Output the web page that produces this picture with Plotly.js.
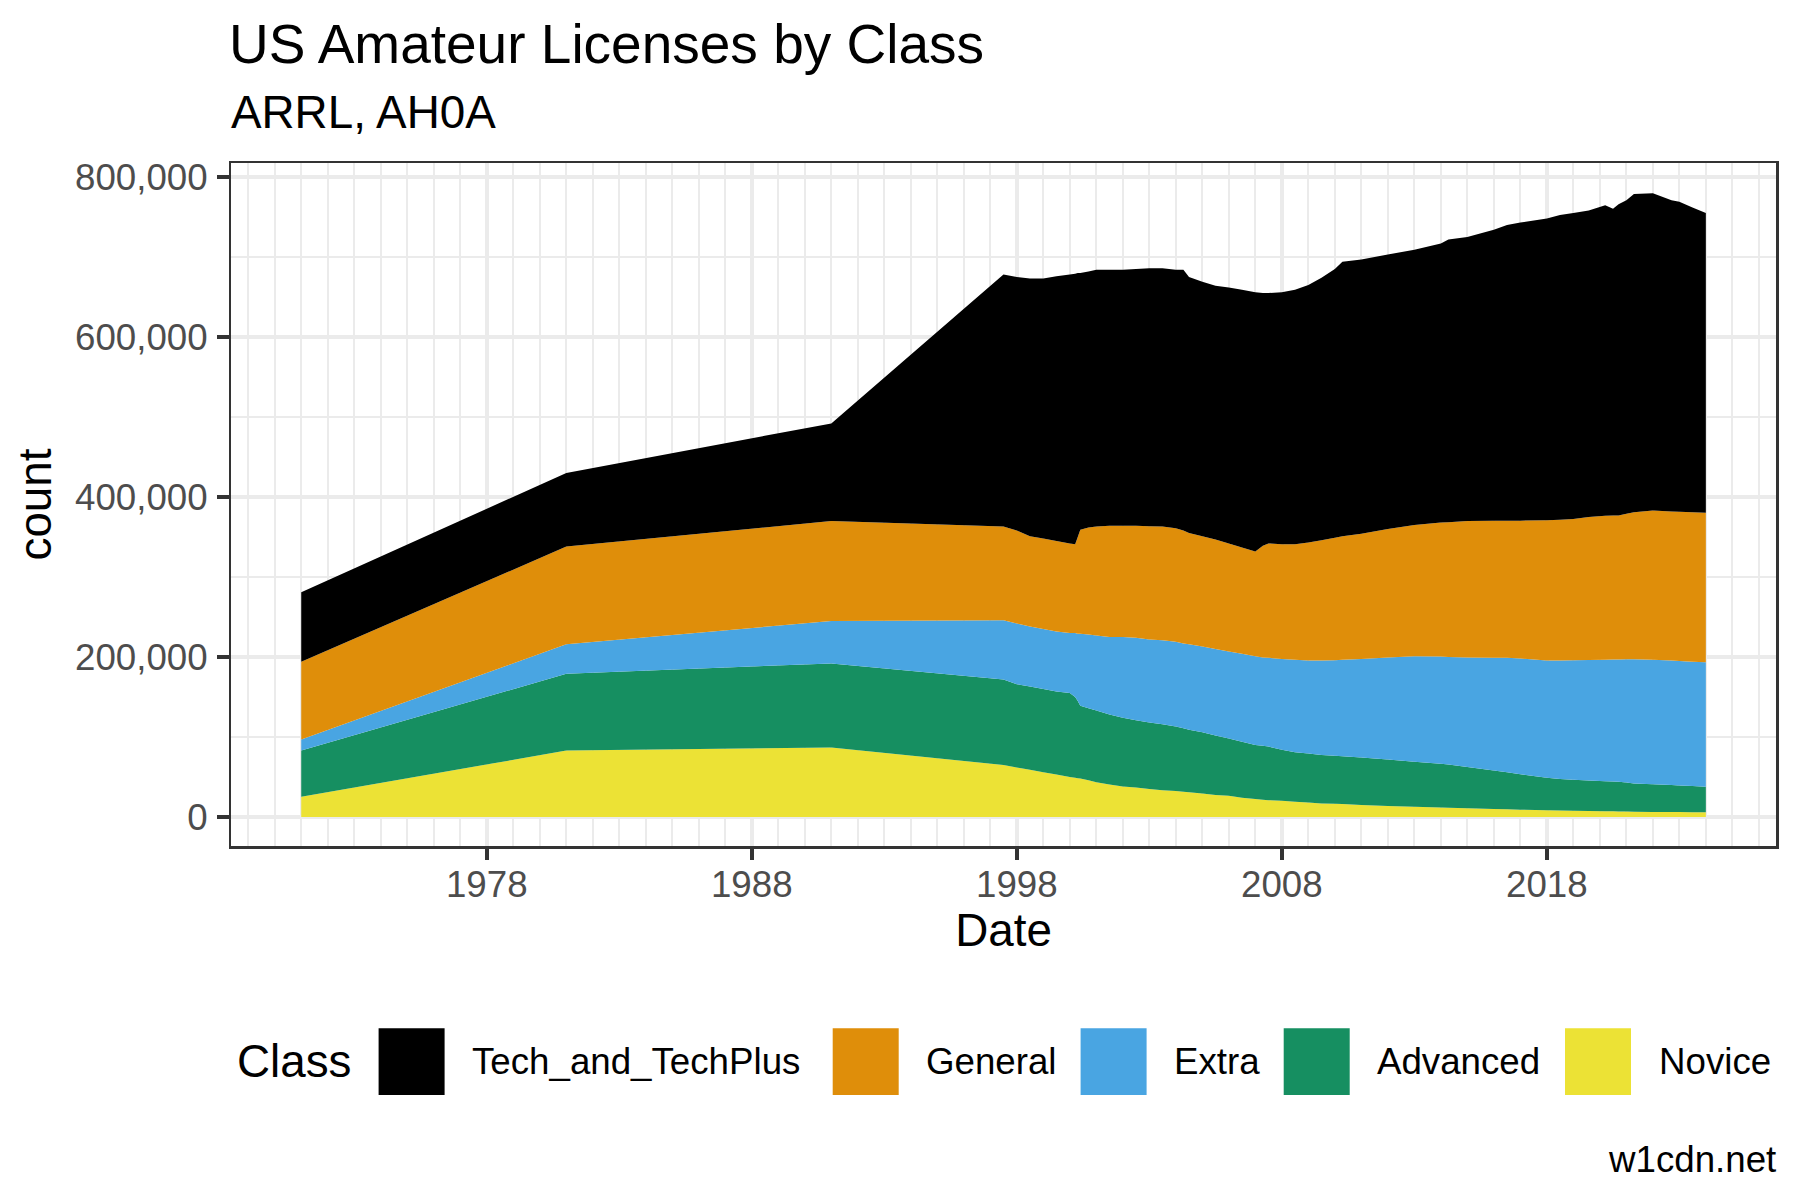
<!DOCTYPE html>
<html>
<head>
<meta charset="utf-8">
<script src="https://cdn.plot.ly/plotly-3.0.1.min.js"></script>
<style>html,body{margin:0;padding:0;background:#fff;}#chart{width:1800px;height:1200px;}</style>
</head>
<body>
<div id="chart"></div>
<script>
// ---- data ----
var dates = ["1971-01-01","1981-01-01","1991-01-01","1997-07-01","1998-01-01","1998-07-01","1999-01-01","1999-07-01","2000-01-01",
  "2000-03-15","2000-04-20","2000-05-25","2000-09-15","2001-01-01","2001-07-01","2002-01-01","2002-07-01","2003-01-01","2003-07-01","2004-01-01",
  "2004-04-15","2004-07-01","2005-01-01","2005-07-01","2006-01-01","2006-07-01","2007-01-01","2007-04-15","2007-07-01","2008-01-01",
  "2008-07-01","2009-01-01","2009-07-01","2010-01-01","2010-04-15","2011-01-01","2012-01-01","2013-01-01","2014-01-01","2014-04-15",
  "2015-01-01","2016-01-01","2016-07-01","2017-01-01","2018-01-01","2018-07-01","2019-01-01","2019-08-01","2020-03-15","2020-07-01",
  "2020-09-15","2021-01-01","2021-04-15","2022-01-01","2022-09-15","2023-01-01","2023-07-01","2024-01-01"];

var techAndTechPlus = [87000,92000,122000,315000,317000,322000,325000,331000,336000,
  338000,330000,321000,320000,321000,320000,320000,321000,322500,323000,323000,
  326000,320000,318000,317000,320000,322000,324000,316000,313000,315000,
  318000,322000,328000,336000,343000,343000,343000,344000,349000,353500,
  355000,363600,369600,372600,377000,381000,382500,383000,388100,383400,
  389000,392000,397700,396600,389000,387500,381000,374600];

var general = [97000,122000,125000,117000,116000,113000,113000,113000,112000,
  111000,121000,130000,134000,136000,139000,139000,140000,141500,142000,142000,
  141000,139000,138000,137000,135000,133000,131000,139500,143000,143500,
  144500,147500,150500,153000,154500,156500,160500,164000,167500,168500,
  170500,171200,171400,172400,175500,176000,176500,178800,180000,180200,
  180000,181900,183900,186500,186500,186500,187000,187100];

var extra = [14000,37000,53000,74000,76000,75000,75000,75000,75000,
  80000,84000,90000,92000,94000,97000,101000,103000,104000,105000,106000,
  106000,107000,107000,108000,109000,110000,111000,110500,111000,113500,
  115500,116000,118000,119500,120500,123000,127500,132000,134000,134500,
  137000,141200,143000,144500,146500,148000,149500,150700,151700,152500,
  152800,154100,155100,155500,155500,155500,155300,155400];

var advanced = [57600,96000,105000,107000,104000,104000,104000,104000,105000,
  101000,96500,91000,90000,89500,87500,86000,84000,83000,82500,80500,
  79300,78000,76500,74500,71500,70000,67500,67500,67000,63700,
  62000,61500,60500,60000,59800,59500,58200,56100,54700,54000,
  51500,48000,46400,44300,40500,39300,38600,38000,37600,37200,
  37200,36200,35400,34600,33800,33400,32700,32100];

var novice = [25400,83000,87000,65000,62000,59000,56000,53000,50000,
  49000,48500,48000,46000,43500,40500,38000,37000,35000,33500,32500,
  31700,31000,29500,27500,26500,24000,22500,21500,21000,20300,
  19000,18000,17000,16500,16200,15000,13800,12900,11800,11500,
  11000,10000,9600,9200,8500,8200,7900,7500,7200,7100,
  7000,6800,6600,6400,6200,6100,6000,5800];

var classNames = ["Tech_and_TechPlus","General","Extra","Advanced","Novice"];
var classColors = ["#000000","#DF8E0A","#49A5E2","#168F61","#ECE235"];
var classValues = [techAndTechPlus, general, extra, advanced, novice];

var titleText = "US Amateur Licenses by Class";
var subtitleText = "ARRL, AH0A";
var captionText = "w1cdn.net";
var xTitle = "Date";
var yTitle = "count";
var legendTitle = "Class";

// ---- layout constants (pixels in the 1800x1200 page) ----
var W = 1800, H = 1200;
var PL = 231, PR = 1776, PT = 163, PB = 846;
var FONT = "Liberation Sans, Arial, Helvetica, sans-serif";
function px2x(px){ return (px - PL) / (PR - PL); }
function px2y(py){ return (PB - py) / (PB - PT); }

// stacking: bottom first (Novice), top last (Tech)
var traces = [];
for (var i = classNames.length - 1; i >= 0; i--) {
  traces.push({
    type: "scatter", mode: "none", name: classNames[i],
    x: dates, y: classValues[i],
    stackgroup: "one", fill: "tonexty",
    fillcolor: classColors[i], line: {width: 0, shape: "linear"},
    showlegend: false, hoverinfo: "x+y+name"
  });
}

// manual ggplot-style legend (large keys)
var legKeyX = [378.6, 832.7, 1080.6, 1283.7, 1565];
var legKeyW = 66, legKeyY0 = 1028.3, legKeyY1 = 1095;
var legLabelGap = 25.5;
var shapes = [], annotations = [];
for (var k = 0; k < classNames.length; k++) {
  shapes.push({type: "rect", xref: "paper", yref: "paper",
    x0: px2x(legKeyX[k]), x1: px2x(legKeyX[k] + legKeyW),
    y0: px2y(legKeyY1), y1: px2y(legKeyY0),
    fillcolor: classColors[k], line: {width: 0}});
  annotations.push({xref: "paper", yref: "paper", showarrow: false,
    x: px2x(legKeyX[k] + legKeyW + legLabelGap), y: px2y(1061.7),
    xanchor: "left", yanchor: "middle", text: classNames[k],
    font: {family: FONT, size: 36.7, color: "#000000"}});
}
annotations.push({xref: "paper", yref: "paper", showarrow: false,
  x: px2x(235), y: px2y(1061.7), xanchor: "left", yanchor: "middle",
  text: legendTitle, font: {family: FONT, size: 45.8, color: "#000000"}});
annotations.push({xref: "paper", yref: "paper", showarrow: false,
  x: px2x(229), y: px2y(112.5), xanchor: "left", yanchor: "middle",
  text: subtitleText, font: {family: FONT, size: 45.8, color: "#000000"}});
annotations.push({xref: "paper", yref: "paper", showarrow: false,
  x: px2x(1778), y: px2y(1159), xanchor: "right", yanchor: "middle",
  text: captionText, font: {family: FONT, size: 36.7, color: "#000000"}});

var layout = {
  width: W, height: H,
  paper_bgcolor: "#ffffff", plot_bgcolor: "#ffffff",
  margin: {l: PL, r: W - PR, t: PT, b: H - PB, pad: 0},
  showlegend: false,
  font: {family: FONT, color: "#000000"},
  title: {text: titleText, xref: "container", yref: "container",
    x: 229 / W, xanchor: "left", y: 1 - 24.5 / H, yanchor: "top",
    font: {family: FONT, size: 55, color: "#000000"}},
  xaxis: {
    type: "date", range: ["1968-05-08", "2026-08-25"],
    tick0: "1968-01-01", dtick: "M120", tickformat: "%Y",
    ticks: "outside", ticklen: 11.5, tickwidth: 4, tickcolor: "#333333",
    ticklabelstandoff: -7,
    tickfont: {family: FONT, size: 36.7, color: "#4D4D4D"},
    showgrid: true, gridcolor: "#EBEBEB", gridwidth: 4.4,
    minor: {dtick: "M12", tick0: "1968-01-01", showgrid: true, gridcolor: "#EBEBEB", gridwidth: 2.2, ticks: ""},
    showline: true, mirror: true, linecolor: "#333333", linewidth: 2.5,
    zeroline: false,
    title: {text: xTitle, standoff: 8, font: {family: FONT, size: 45.8, color: "#000000"}}
  },
  yaxis: {
    range: [-36250, 817500], tick0: 0, dtick: 200000, tickformat: ",d",
    ticks: "outside", ticklen: 11.5, tickwidth: 4, tickcolor: "#333333",
    ticklabelstandoff: 2,
    tickfont: {family: FONT, size: 36.7, color: "#4D4D4D"},
    showgrid: true, gridcolor: "#EBEBEB", gridwidth: 4.4,
    minor: {dtick: 100000, tick0: 0, showgrid: true, gridcolor: "#EBEBEB", gridwidth: 2.2, ticks: ""},
    showline: true, mirror: true, linecolor: "#333333", linewidth: 2.5,
    zeroline: false,
    title: {text: yTitle, standoff: 9, font: {family: FONT, size: 45.8, color: "#000000"}}
  },
  shapes: shapes,
  annotations: annotations
};

Plotly.newPlot("chart", traces, layout, {displayModeBar: false, staticPlot: true});
</script>
</body>
</html>
